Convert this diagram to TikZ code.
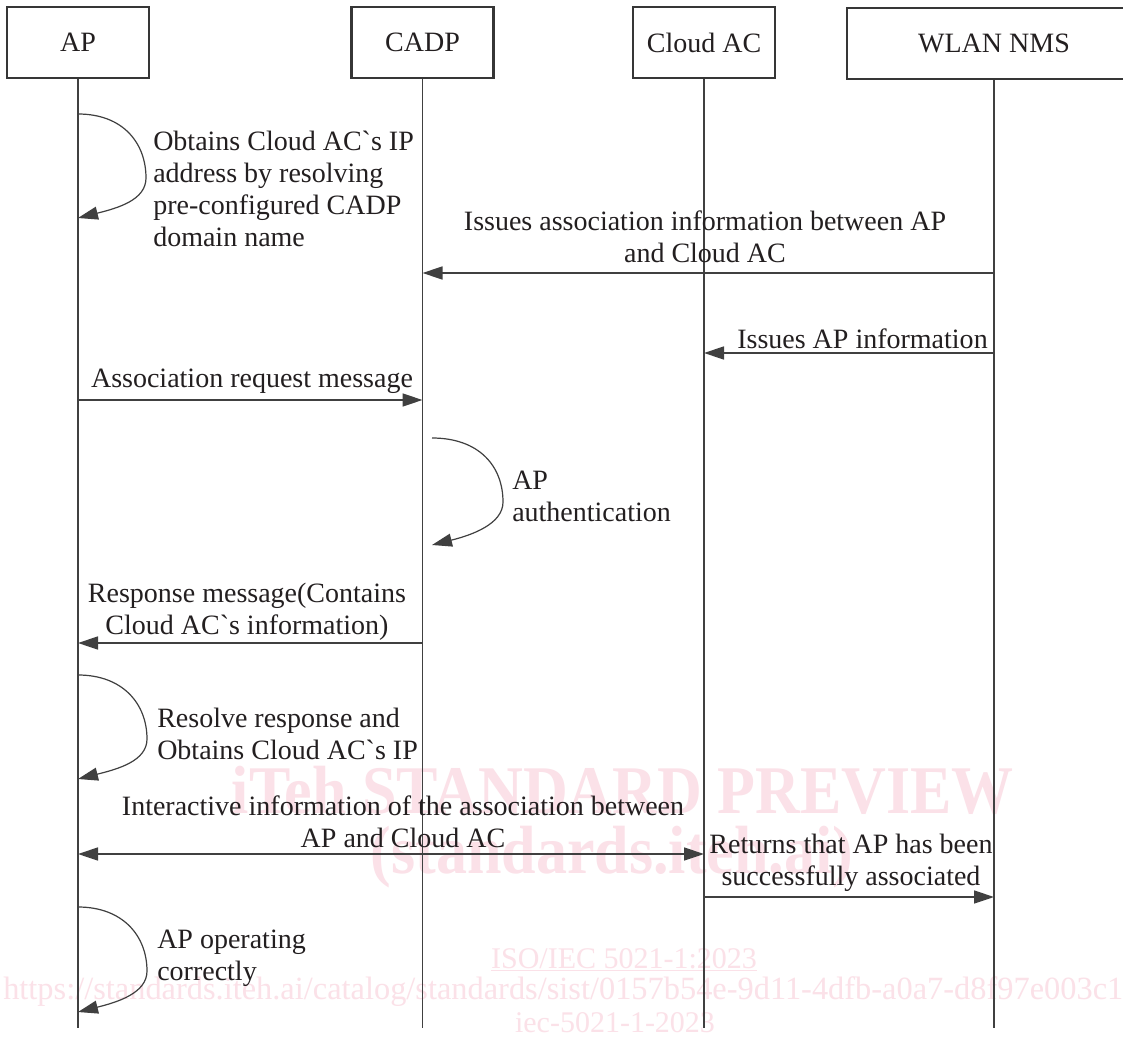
\documentclass[tikz,border=0pt]{standalone}
\usepackage{fontspec}
\setmainfont{Liberation Serif}[Ligatures=TeXOff]
\usetikzlibrary{arrows.meta}
\definecolor{ln}{HTML}{404040}
\definecolor{bx}{HTML}{363636}
\definecolor{tx}{HTML}{231F20}
\definecolor{wm}{RGB}{251,225,232}
\begin{document}
\begin{tikzpicture}[x=0.75pt,y=-0.75pt,
  font=\fontsize{21}{24}\selectfont, text=tx,
  actor/.style={draw=bx, line width=1.6pt, minimum width=106.5pt, minimum height=53.25pt, inner sep=0pt},
  life/.style={draw=ln, line width=0.8pt},
  msg/.style={draw=ln, line width=1.1pt, -{Triangle[length=15pt,width=9.75pt]}},
  msgb/.style={draw=ln, line width=1.1pt, {Triangle[length=15pt,width=9.75pt]}-{Triangle[length=15pt,width=9.75pt]}},
  lbl/.style={inner sep=0pt, align=center},
  lbll/.style={inner sep=0pt, align=left, anchor=west},
  wmk/.style={text=wm, inner sep=0pt},
  wmbig/.style={wmk, font=\bfseries\fontsize{46.5}{50}\selectfont},
  wmsmall/.style={wmk, font=\fontsize{22.5}{26}\selectfont}]
\useasboundingbox[fill=white] (0,0) rectangle (1123,1041);

% watermark
\node[wmbig, yscale=1.1] (w1) at (623,790) {iTeh STANDARD PREVIEW};
\node[wmbig, yscale=1.1] (w2) at (612,857) {(standards.iteh.ai)};
\node[wmsmall] (w3) at (624,960) {\underline{ISO/IEC 5021-1:2023}};
\node[wmsmall, anchor=west, font=\fontsize{24.3}{26}\selectfont] (w4) at (3,992) {https://standards.iteh.ai/catalog/standards/sist/0157b54e-9d11-4dfb-a0a7-d8f97e003c1};
\node[wmsmall] (w5) at (615,1023) {iec-5021-1-2023};

% actors
\node[actor] (AP) at (78,42.5) {AP};
\node[actor] (CADP) at (422.5,42.5) {CADP};
\node[actor] (CAC) at (704,42.5) {Cloud AC};
\node[actor, minimum width=220.5pt] (NMS) at (994,43.5) {WLAN NMS};

\coordinate (APb) at (78,1028);
\coordinate (CADPb) at (422.5,1028);
\coordinate (CACb) at (704,1028);
\coordinate (NMSb) at (994,1028);
\draw[life] (AP.south) -- (APb);
\draw[life] (CADP.south) -- (CADPb);
\draw[life] (CAC.south) -- (CACb);
\draw[life] (NMS.south) -- (NMSb);

% self loop 1 (AP)
\coordinate (l1s) at (78,114);
\coordinate (l1m) at (146,178);
\coordinate (l1e) at (78,218);
\draw[msg, line width=0.9pt] (l1s) .. controls +(45,0) and +(0,-35) .. (l1m) .. controls +(0,22) and +(40,-10) .. (l1e);
\node[lbll] (t0) at (153,189) {Obtains Cloud AC`s IP\\address by resolving\\pre-configured CADP\\domain name};

% WLAN NMS -> CADP
\draw[msg] (NMS |- 0,273) -- (CADP |- 0,273);
\node[lbl] (t1) at (705,237) {Issues association information between AP\\and Cloud AC};

% WLAN NMS -> Cloud AC
\draw[msg] (NMS |- 0,353) -- (CAC |- 0,353);
\node[lbl, anchor=east] (t2) at (988,339) {Issues AP information};

% AP -> CADP
\draw[msg] (AP |- 0,400) -- (CADP |- 0,400);
\node[lbl] (t3) at (252,381) {Association request message};

% self loop 2 (CADP)
\coordinate (l2s) at (432,438);
\coordinate (l2m) at (503,502);
\coordinate (l2e) at (432,545);
\draw[msg, line width=0.9pt] (l2s) .. controls +(47,0) and +(0,-36) .. (l2m) .. controls +(0,22) and +(40,-10) .. (l2e);
\node[lbll] (ta) at (512,496) {AP\\authentication};

% CADP -> AP
\draw[msg] (CADP |- 0,643) -- (AP |- 0,643);
\node[lbl] (t4) at (247,612) {Response message(Contains\\Cloud AC`s information)};

% self loop 3 (AP)
\coordinate (l3s) at (78,675);
\coordinate (l3m) at (147,739);
\coordinate (l3e) at (78,779);
\draw[msg, line width=0.9pt] (l3s) .. controls +(45,0) and +(0,-35) .. (l3m) .. controls +(0,22) and +(40,-10) .. (l3e);
\node[lbll] (tr) at (157,734) {Resolve response and\\Obtains Cloud AC`s IP};

% AP <-> Cloud AC
\draw[msgb] (AP |- 0,854) -- (CAC |- 0,854);
\node[lbl] (t5) at (403,822) {Interactive information of the association between\\AP and Cloud AC};

% Cloud AC -> WLAN NMS
\draw[msg] (CAC |- 0,897) -- (NMS |- 0,897);
\node[lbl] (t6) at (851,863) {Returns that AP has been\\successfully associated};

% self loop 4 (AP)
\coordinate (l4s) at (78,907);
\coordinate (l4m) at (147,971);
\coordinate (l4e) at (78,1012);
\draw[msg, line width=0.9pt] (l4s) .. controls +(45,0) and +(0,-35) .. (l4m) .. controls +(0,22) and +(40,-10) .. (l4e);
\node[lbll] (to) at (157,958) {AP operating\\correctly};
\end{tikzpicture}
\end{document}
